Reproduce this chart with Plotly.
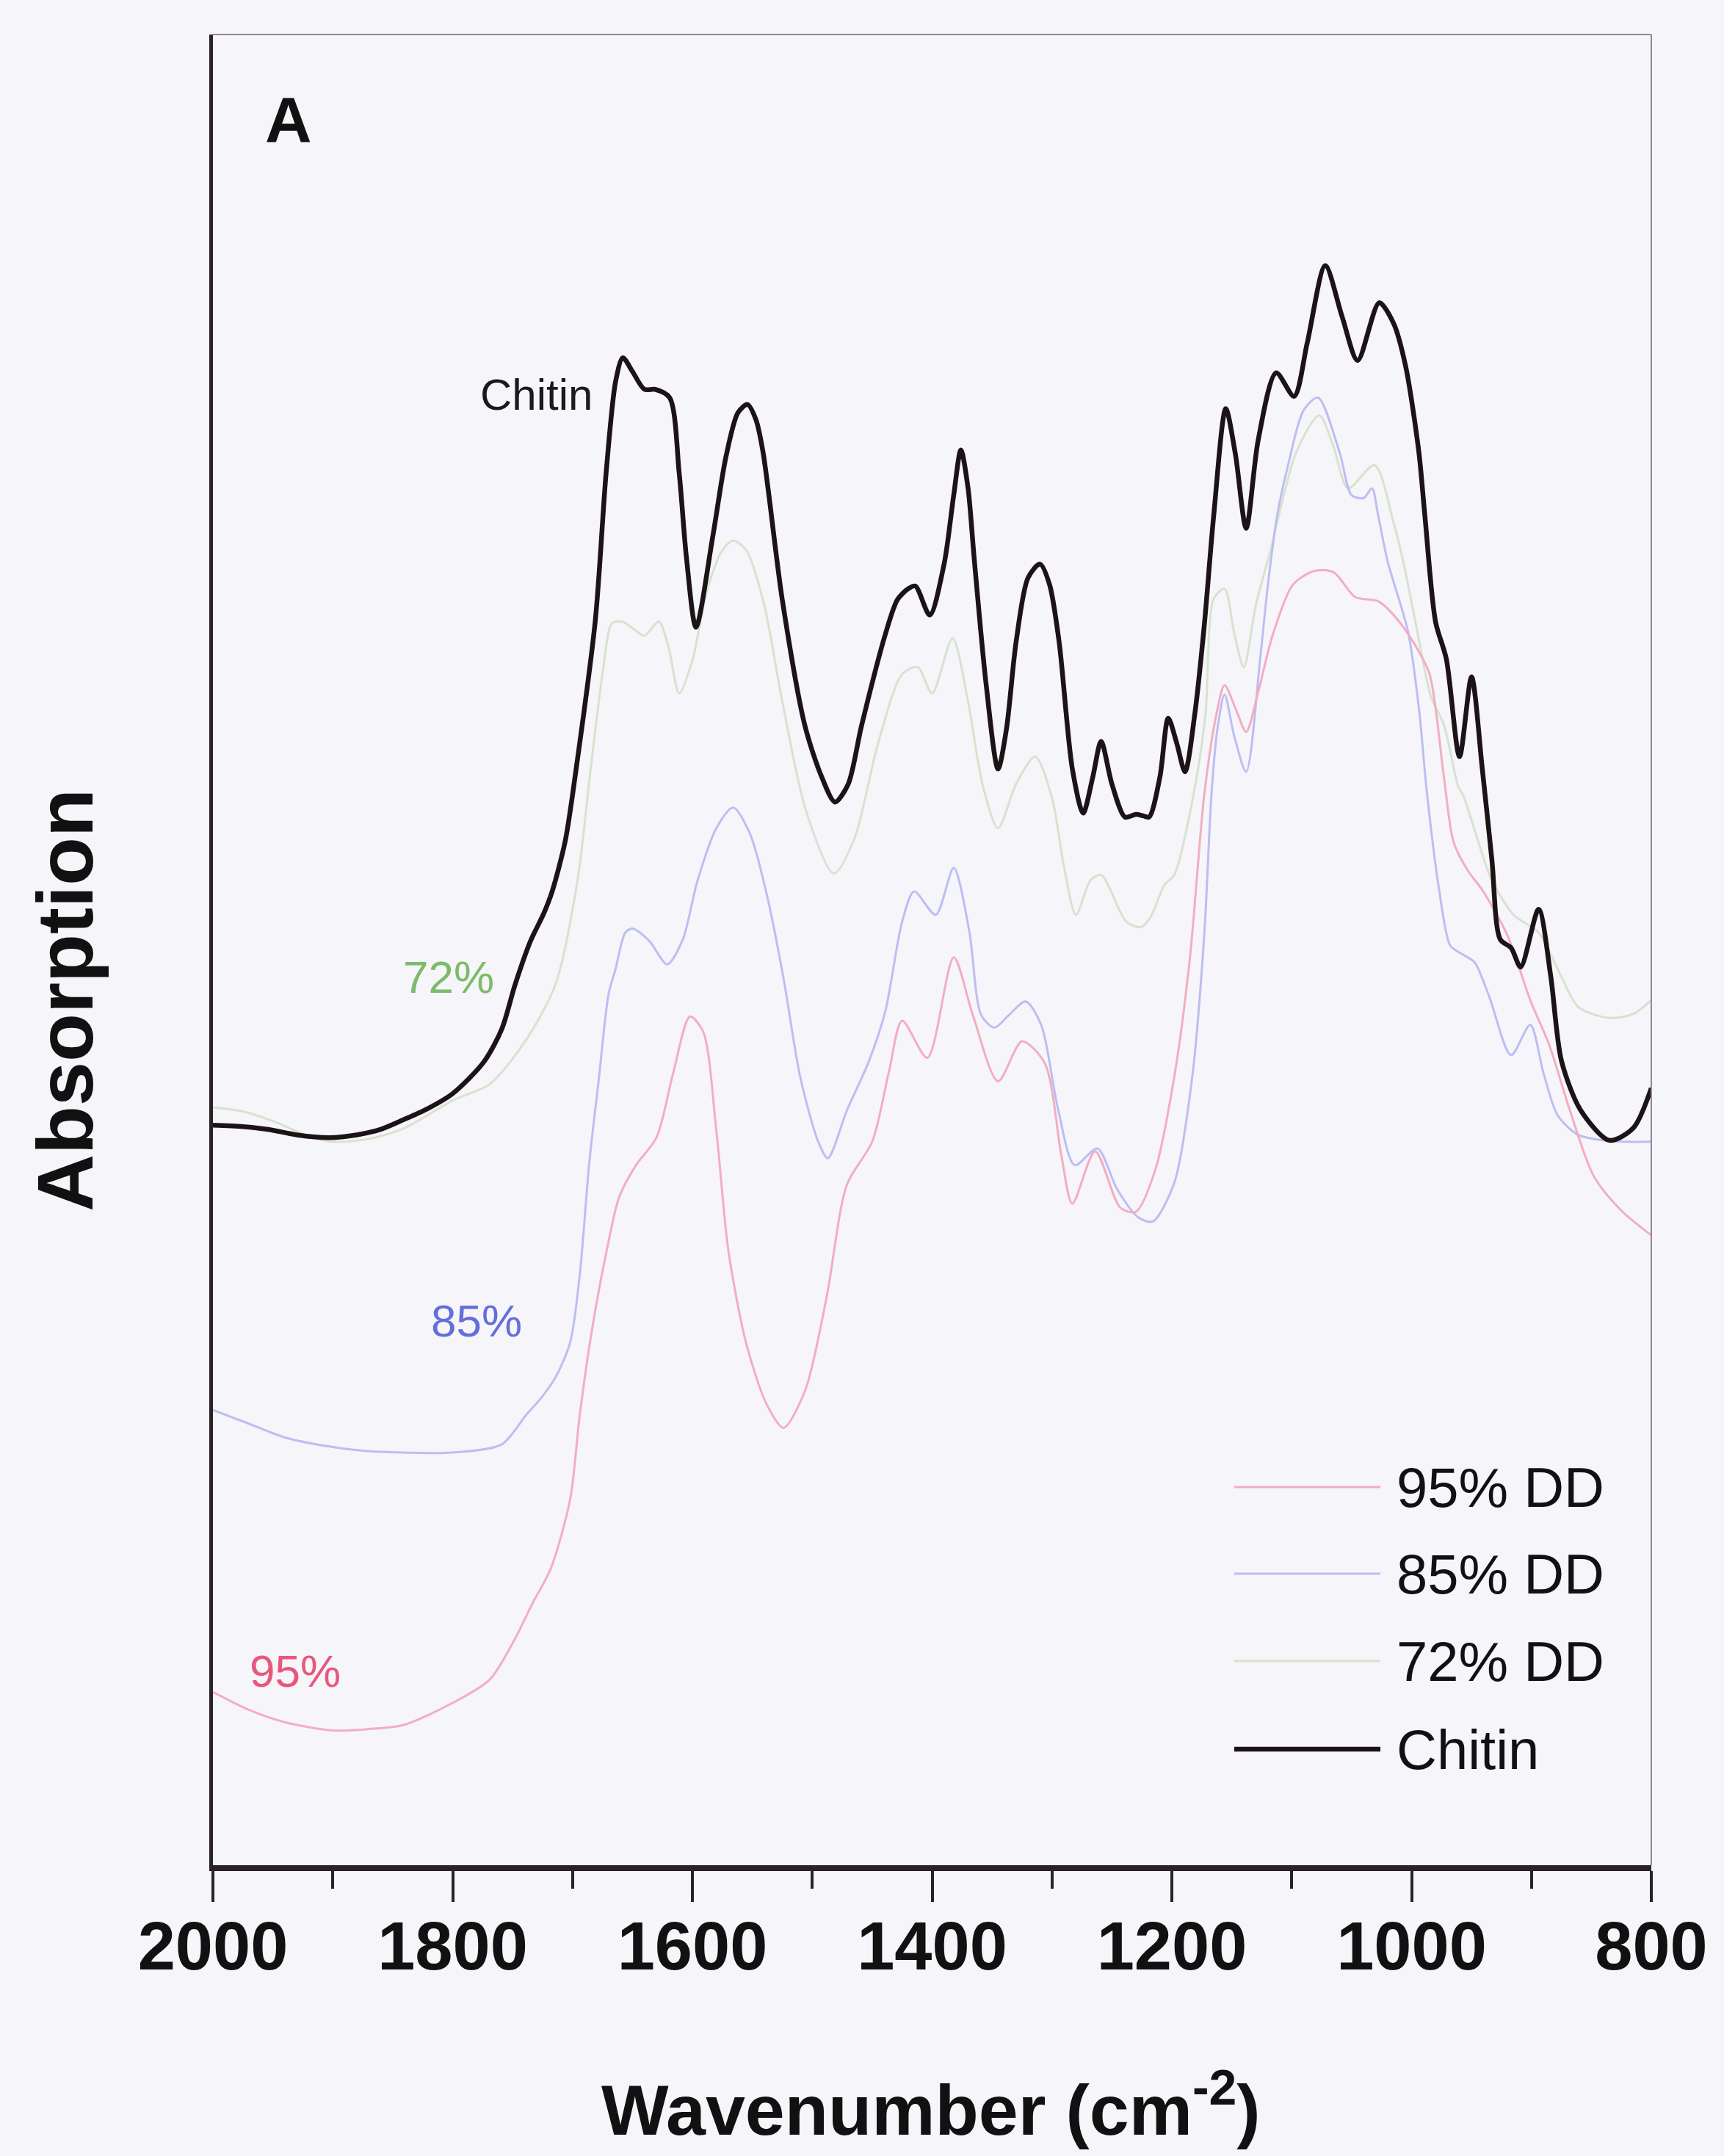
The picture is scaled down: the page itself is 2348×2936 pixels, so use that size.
import plotly.graph_objects as go

# ---------------- data (absorption in arbitrary units) -------------
chitin_wn = [2000, 1975, 1954, 1930, 1903, 1880, 1860, 1841, 1821, 1800, 1774, 1759, 1748, 1735,
             1724, 1717, 1706, 1697, 1681, 1672, 1664, 1658, 1650, 1640, 1631, 1619, 1611, 1605,
             1597, 1583, 1572, 1562, 1554, 1547, 1541, 1525, 1506, 1492, 1481, 1470, 1459, 1439,
             1429, 1420, 1414, 1402, 1390, 1382, 1376, 1370, 1365, 1355, 1345, 1338, 1330, 1320,
             1310, 1302, 1294, 1283, 1274, 1266, 1259, 1250, 1239, 1230, 1224, 1219, 1210, 1203,
             1196, 1189, 1181, 1173, 1165, 1155, 1147, 1138, 1128, 1113, 1098, 1087, 1072, 1058,
             1045, 1027, 1015, 1005, 994, 989, 980, 971, 960, 950, 941, 933, 926, 917, 909, 894,
             884, 875, 859, 835, 815, 800]
chitin_abs = [0.538, 0.537, 0.535, 0.531, 0.529, 0.531, 0.535, 0.542, 0.550, 0.561, 0.584, 0.608,
              0.640, 0.672, 0.692, 0.708, 0.745, 0.797, 0.905, 1.012, 1.079, 1.096, 1.086, 1.073,
              1.073, 1.067, 1.012, 0.951, 0.900, 0.966, 1.024, 1.056, 1.062, 1.051, 1.027, 0.920,
              0.828, 0.791, 0.773, 0.786, 0.828, 0.895, 0.920, 0.928, 0.930, 0.909, 0.946, 0.996,
              1.029, 1.001, 0.951, 0.859, 0.797, 0.826, 0.889, 0.936, 0.946, 0.931, 0.889, 0.797,
              0.765, 0.791, 0.817, 0.786, 0.762, 0.764, 0.763, 0.762, 0.791, 0.834, 0.816, 0.795,
              0.836, 0.901, 0.982, 1.059, 1.026, 0.972, 1.036, 1.085, 1.068, 1.107, 1.163, 1.126,
              1.094, 1.136, 1.121, 1.090, 1.028, 0.982, 0.904, 0.877, 0.806, 0.864, 0.797, 0.731,
              0.673, 0.667, 0.653, 0.695, 0.647, 0.585, 0.549, 0.527, 0.536, 0.565]

dd72_wn = [2000, 1975, 1950, 1920, 1900, 1870, 1840, 1800, 1769, 1738, 1714, 1696, 1685, 1675,
           1667, 1658, 1648, 1640, 1628, 1620, 1611, 1600, 1588, 1575, 1566, 1555, 1540, 1525,
           1505, 1482, 1465, 1445, 1425, 1412, 1400, 1383, 1370, 1358, 1345, 1330, 1314, 1300,
           1290, 1280, 1268, 1259, 1238, 1226, 1218, 1206, 1198, 1182, 1172, 1165, 1156, 1148,
           1140, 1130, 1118, 1096, 1077, 1065, 1053, 1031, 1015, 1007, 995, 984, 973, 961, 957,
           945, 934, 915, 894, 875, 861, 835, 815, 800]
dd72_abs = [0.551, 0.548, 0.541, 0.530, 0.526, 0.528, 0.536, 0.556, 0.568, 0.601, 0.641, 0.715,
            0.796, 0.866, 0.903, 0.904, 0.898, 0.894, 0.904, 0.886, 0.852, 0.876, 0.926, 0.956,
            0.963, 0.956, 0.916, 0.846, 0.766, 0.721, 0.746, 0.816, 0.866, 0.871, 0.852, 0.892,
            0.846, 0.786, 0.754, 0.786, 0.806, 0.776, 0.726, 0.691, 0.716, 0.720, 0.686, 0.682,
            0.689, 0.713, 0.720, 0.778, 0.836, 0.921, 0.928, 0.896, 0.871, 0.916, 0.955, 1.028,
            1.054, 1.031, 1.001, 1.018, 0.976, 0.948, 0.896, 0.850, 0.829, 0.784, 0.778, 0.746,
            0.718, 0.691, 0.678, 0.646, 0.624, 0.616, 0.619, 0.629]

dd85_wn = [2000, 1970, 1940, 1900, 1870, 1841, 1800, 1759, 1739, 1725, 1714, 1702, 1694, 1686,
           1678, 1670, 1664, 1656, 1650, 1636, 1621, 1608, 1596, 1580, 1566, 1552, 1538, 1524,
           1510, 1495, 1487, 1471, 1453, 1439, 1425, 1415, 1397, 1382, 1369, 1359, 1348, 1336,
           1322, 1309, 1295, 1281, 1262, 1246, 1228, 1216, 1198, 1183, 1173, 1167, 1162, 1156,
           1148, 1138, 1126, 1120, 1112, 1103, 1090, 1078, 1060, 1050, 1040, 1033, 1028, 1020,
           1003, 994, 987, 977, 968, 961, 953, 947, 935, 917, 901, 890, 878, 861, 840, 820, 800]
dd85_abs = [0.331, 0.321, 0.311, 0.304, 0.301, 0.300, 0.300, 0.306, 0.327, 0.341, 0.355, 0.380,
            0.429, 0.511, 0.572, 0.633, 0.652, 0.678, 0.681, 0.672, 0.655, 0.673, 0.715, 0.754,
            0.769, 0.750, 0.706, 0.645, 0.573, 0.526, 0.514, 0.549, 0.584, 0.621, 0.686, 0.708,
            0.691, 0.725, 0.679, 0.618, 0.609, 0.618, 0.628, 0.611, 0.550, 0.509, 0.521, 0.492,
            0.471, 0.468, 0.496, 0.573, 0.676, 0.778, 0.826, 0.851, 0.821, 0.795, 0.880, 0.930,
            0.982, 1.018, 1.058, 1.067, 1.027, 0.996, 0.994, 1.001, 0.982, 0.948, 0.897, 0.842,
            0.778, 0.709, 0.669, 0.664, 0.660, 0.656, 0.631, 0.589, 0.611, 0.576, 0.545, 0.531,
            0.527, 0.526, 0.526]

dd95_wn = [2000, 1970, 1940, 1900, 1870, 1841, 1800, 1769, 1749, 1733, 1718, 1702, 1694, 1684,
           1671, 1661, 1647, 1630, 1616, 1602, 1591, 1580, 1570, 1555, 1538, 1524, 1506, 1488,
           1471, 1450, 1436, 1425, 1404, 1382, 1366, 1345, 1325, 1306, 1292, 1283, 1264, 1243,
           1230, 1214, 1198, 1185, 1173, 1163, 1156, 1146, 1138, 1128, 1116, 1099, 1081, 1065,
           1047, 1028, 1013, 997, 985, 973, 965, 953, 941, 920, 901, 885, 868, 848, 825, 800]
dd95_abs = [0.126, 0.113, 0.104, 0.098, 0.099, 0.102, 0.118, 0.135, 0.163, 0.191, 0.216, 0.266,
            0.327, 0.388, 0.449, 0.486, 0.509, 0.529, 0.576, 0.617, 0.606, 0.534, 0.447, 0.379,
            0.335, 0.318, 0.345, 0.413, 0.495, 0.526, 0.577, 0.614, 0.587, 0.660, 0.618, 0.570,
            0.599, 0.583, 0.515, 0.481, 0.519, 0.478, 0.475, 0.505, 0.573, 0.659, 0.778, 0.836,
            0.858, 0.839, 0.824, 0.853, 0.894, 0.931, 0.941, 0.940, 0.922, 0.919, 0.907, 0.887,
            0.866, 0.791, 0.744, 0.723, 0.709, 0.676, 0.629, 0.596, 0.549, 0.501, 0.476, 0.458]

x_ticks = [2000, 1800, 1600, 1400, 1200, 1000, 800]
series_names = ["95% DD", "85% DD", "72% DD", "Chitin"]
curve_labels = ["95%", "85%", "72%", "Chitin"]
x_title = "Wavenumber (cm<sup>-2</sup>)"
y_title = "Absorption"
panel_label = "A"

# ---------------- styling -------------
W, H = 2348, 2936
L, R, T, B = 290, 2249, 47, 2540
BG = "#F6F5FA"
FONT = "Liberation Sans, Arial, Helvetica, sans-serif"
C95, C85, C72, CCH = "#F2AEC0", "#BCBEF2", "#D8E2CE", "#1C1317"
AXC = "#2A2228"


def paper(xp, yp):
    return (xp - L) / (R - L), (B - yp) / (B - T)


fig = go.Figure()
for wn, ab, name, col, w in [
    (dd72_wn, dd72_abs, series_names[2], C72, 3),
    (dd85_wn, dd85_abs, series_names[1], C85, 3),
    (dd95_wn, dd95_abs, series_names[0], C95, 3),
    (chitin_wn, chitin_abs, series_names[3], CCH, 6.5),
]:
    fig.add_trace(go.Scatter(x=wn, y=ab, mode="lines", name=name,
                             line=dict(color=col, width=w, shape="spline", smoothing=0.8),
                             showlegend=False))

annotations = []
shapes = []

# panel label and curve labels
for text, (xp, yp), size, col, bold in [
    (panel_label, (393, 162), 88, "#111111", True),
    (curve_labels[3], (730, 537), 60, "#1a1a1a", False),
    (curve_labels[2], (611, 1330), 62, "#7DBB69", False),
    (curve_labels[1], (649, 1799), 62, "#6470D8", False),
    (curve_labels[0], (402, 2275), 62, "#E8587C", False),
]:
    px, py = paper(xp, yp)
    annotations.append(dict(x=px, y=py, xref="paper", yref="paper", text=text, showarrow=False,
                            xanchor="center", yanchor="middle",
                            font=dict(family=FONT, size=size, color=col,
                                      weight="bold" if bold else "normal")))

# manual legend
leg_rows = [(series_names[0], C95, 3, 2025), (series_names[1], C85, 3, 2143),
            (series_names[2], C72, 3, 2262), (series_names[3], CCH, 6.5, 2382)]
for name, col, w, yp in leg_rows:
    x0, y0 = paper(1681, yp)
    x1, _ = paper(1880, yp)
    shapes.append(dict(type="line", xref="paper", yref="paper", x0=x0, x1=x1, y0=y0, y1=y0,
                       line=dict(color=col, width=w)))
    tx, ty = paper(1900, yp)
    annotations.append(dict(x=tx, y=ty, xref="paper", yref="paper", text=name, showarrow=False,
                            xanchor="left", yanchor="middle",
                            font=dict(family=FONT, size=76, color="#111111")))

# axis titles
ax, ay = paper(88, 1362)
annotations.append(dict(x=ax, y=ay, xref="paper", yref="paper", text=y_title, showarrow=False,
                        textangle=-90, xanchor="center", yanchor="middle",
                        font=dict(family=FONT, size=108, color="#111111", weight="bold")))
bx, by = paper(1268, 2866)
annotations.append(dict(x=bx, y=by, xref="paper", yref="paper", text=x_title, showarrow=False,
                        xanchor="center", yanchor="middle",
                        font=dict(family=FONT, size=97, color="#111111", weight="bold")))

# thin top and right frame
shapes.append(dict(type="line", xref="paper", yref="paper", x0=0, x1=1, y0=1, y1=1,
                   line=dict(color="#8C8790", width=2)))
shapes.append(dict(type="line", xref="paper", yref="paper", x0=1, x1=1, y0=0, y1=1,
                   line=dict(color="#8C8790", width=2)))

fig.update_layout(
    width=W, height=H,
    margin=dict(l=L, r=W - R, t=T, b=H - B, pad=0),
    paper_bgcolor=BG, plot_bgcolor=BG,
    showlegend=False,
    annotations=annotations, shapes=shapes,
    xaxis=dict(range=[2000, 800], autorange=False, tickmode="array", tickvals=x_ticks,
               ticktext=[str(v) for v in x_ticks],
               ticks="outside", ticklen=42, tickwidth=4, tickcolor=AXC,
               ticklabelstandoff=-18,
               showline=True, linewidth=8, linecolor=AXC, showgrid=False, zeroline=False,
               tickfont=dict(family=FONT, size=92, color="#111111", weight="bold"),
               minor=dict(dtick=100, tick0=800, ticks="outside", ticklen=24, tickwidth=4,
                          tickcolor=AXC, showgrid=False)),
    yaxis=dict(range=[0, 1.331], autorange=False, showticklabels=False, ticks="",
               showline=True, linewidth=5, linecolor=AXC, showgrid=False, zeroline=False),
)

fig.write_html("out.html")
